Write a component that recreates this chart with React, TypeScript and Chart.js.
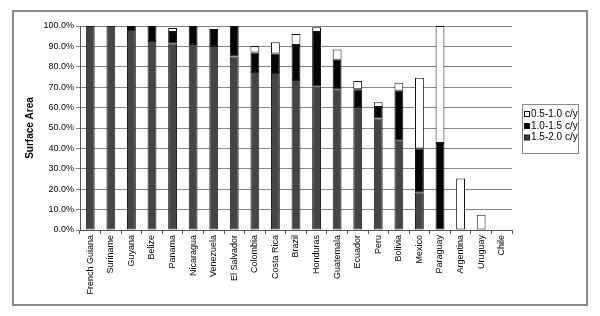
import React, { useEffect, useRef } from "react";
import { Chart, registerables } from "chart.js";

Chart.register(...registerables);

const categories = [
  "French Guiana", "Suriname", "Guyana", "Belize", "Panama", "Nicaragua", "Venezuela",
  "El Salvador", "Colombia", "Costa Rica", "Brazil", "Honduras", "Guatemala", "Ecuador",
  "Peru", "Bolivia", "Mexico", "Paraguay", "Argentina", "Uruguay", "Chile",
];

// stacked from bottom
const band15to20 = [100, 100, 98, 92.7, 91.5, 91.2, 90.2, 85, 77.4, 77, 73.5, 70.5, 69, 60.3, 54.6, 43.7, 18.5, 0, 0, 0, 0];
const band10to15 = [0, 0, 2, 7.3, 5.5, 8.8, 8.3, 15, 9.6, 9.5, 17.2, 26.5, 14.5, 8.7, 5.7, 24.5, 21.4, 42.7, 0, 0, 0];
const band05to10 = [0, 0, 0, 0, 2, 0, 0, 0, 3.2, 5.5, 5.4, 2.4, 5, 4, 2.3, 4, 34.7, 57.3, 25.2, 7.5, 0];

const seriesLabels = ["1.5-2.0 c/y", "1.0-1.5 c/y", "0.5-1.0 c/y"];
const yTicks = [0, 10, 20, 30, 40, 50, 60, 70, 80, 90, 100];

const FONT = "'Liberation Sans', Arial, sans-serif";
const colors = ["#454545", "#050505", "#ffffff"];

const nz = (arr: number[]) => arr.map((v) => (v === 0 ? null : v));

export default function App() {
  const ref = useRef<HTMLCanvasElement | null>(null);

  useEffect(() => {
    document.body.style.margin = "0";
    const canvas = ref.current!;
    const framePlugin = {
      id: "frame",
      beforeDraw(chart: any) {
        const ctx = chart.ctx;
        ctx.save();
        ctx.fillStyle = "#ffffff";
        ctx.fillRect(0, 0, chart.width, chart.height);
        ctx.strokeStyle = "#8a8a8a";
        ctx.lineWidth = 2;
        ctx.strokeRect(13, 11, 574, 294);
        ctx.restore();
      },
      afterDraw(chart: any) {
        const ctx = chart.ctx;
        ctx.save();
        ctx.strokeStyle = "#8a8a8a";
        ctx.lineWidth = 1;
        ctx.strokeRect(522.5, 104.5, 56, 49);
        const ys = [114, 126, 137.5];
        const order = [2, 1, 0];
        ctx.font = `10px ${FONT}`;
        ctx.textBaseline = "middle";
        ctx.textAlign = "left";
        order.forEach((di, i) => {
          const y = ys[i];
          ctx.fillStyle = colors[di];
          ctx.fillRect(524.5, y - 2.5, 5, 5);
          ctx.strokeStyle = "#111";
          ctx.strokeRect(524.5, y - 2.5, 5, 5);
          ctx.fillStyle = "#000";
          ctx.fillText(chart.data.datasets[di].label, 531, y);
        });
        ctx.restore();
      },
    };

    const chart = new Chart(canvas, {
      type: "bar",
      data: {
        labels: categories,
        datasets: [
          { label: seriesLabels[0], data: nz(band15to20) as any, backgroundColor: colors[0], borderColor: "#222", borderWidth: 1, borderSkipped: false },
          { label: seriesLabels[1], data: nz(band10to15) as any, backgroundColor: colors[1], borderColor: "#111", borderWidth: 1, borderSkipped: false },
          { label: seriesLabels[2], data: nz(band05to10) as any, backgroundColor: colors[2], borderColor: "#111", borderWidth: 1, borderSkipped: false },
        ],
      },
      options: {
        responsive: false,
        animation: false,
        layout: { padding: { left: 20, top: 26, right: 88, bottom: 0 } },
        datasets: { bar: { barPercentage: 0.43, categoryPercentage: 1 } },
        plugins: { legend: { display: false }, tooltip: { enabled: false } },
        scales: {
          x: {
            stacked: true,
            grid: { display: true, drawOnChartArea: false, drawTicks: true, tickLength: 4, color: "#555", offset: true },
            border: { display: true, color: "#555", width: 1 },
            ticks: {
              autoSkip: false,
              minRotation: 90,
              maxRotation: 90,
              padding: 1,
              color: "#000",
              font: { family: FONT, size: 9 },
            },
            afterFit(scale: any) {
              scale.height = 86;
            },
          },
          y: {
            stacked: true,
            min: 0,
            max: 100,
            afterBuildTicks(scale: any) {
              scale.ticks = yTicks.map((v) => ({ value: v }));
            },
            grid: { color: "#858585", lineWidth: 1, tickLength: 4 },
            border: { display: true, color: "#555", width: 1 },
            ticks: {
              padding: 2,
              color: "#000",
              font: { family: FONT, size: 9 },
              callback: (v: any) => Number(v).toFixed(1) + "%",
            },
            title: {
              display: true,
              text: "Surface Area",
              color: "#000",
              font: { family: FONT, size: 10, weight: "bold" },
              padding: { top: 4, bottom: 4 },
            },
            afterFit(scale: any) {
              scale.width = 60;
            },
          },
        },
      },
      plugins: [framePlugin],
    });
    return () => chart.destroy();
  }, []);

  return (
    <div style={{ width: 600, height: 316 }}>
      <canvas ref={ref} width={600} height={316} style={{ display: "block" }} />
    </div>
  );
}
